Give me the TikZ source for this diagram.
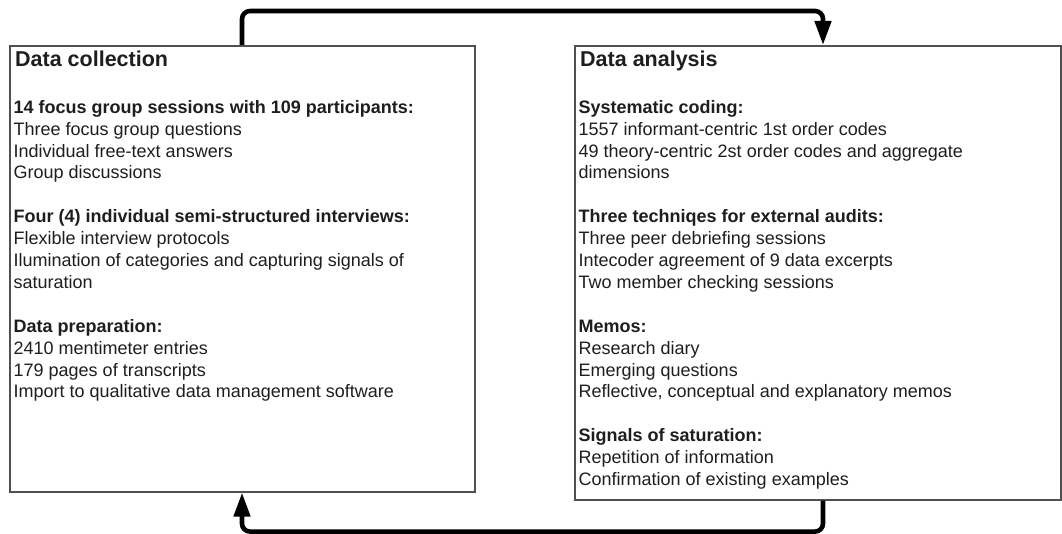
\documentclass[tikz,border=0pt]{standalone}
\usepackage{fontspec}
\setmainfont{Liberation Sans}
\usetikzlibrary{arrows.meta}
\definecolor{ink}{HTML}{1E1E1E}
\definecolor{edge}{HTML}{505050}
\tikzset{
  box/.style={draw=edge, line width=1.6pt, fill=white, inner sep=0pt, anchor=north west},
  ttl/.style={anchor=base west, inner sep=0pt, text=ink, font=\fontsize{21.5}{24}\selectfont\bfseries},
  body/.style={anchor=north west, inner sep=0pt, text=ink, align=left, font=\fontsize{18}{21.9}\selectfont},
  conn/.style={line width=4.6pt, black, rounded corners=8pt, -{Triangle[length=24pt,width=16pt]}}
}
\begin{document}
\begin{tikzpicture}[x=1pt,y=-1pt]
\useasboundingbox (0,0) rectangle (1062,534);
\node[box, minimum width=465pt, minimum height=446pt] (coll) at (9,45) {};
\node[box, minimum width=486pt, minimum height=454pt] (ana) at (574,45) {};
\node[ttl] (colltitle) at ([xshift=6pt,yshift=-22pt]coll.north west) {Data collection};
\node[ttl] (anatitle) at ([xshift=6pt,yshift=-22pt]ana.north west) {Data analysis};
\node[body] (colltext) at ([xshift=4.5pt,yshift=-55pt]coll.north west) {%
\textbf{14 focus group sessions with 109 participants:}\\
Three focus group questions\\
Individual free-text answers\\
Group discussions\\[21.9pt]
\textbf{Four (4) individual semi-structured interviews:}\\
Flexible interview protocols\\
Ilumination of categories and capturing signals of\\
saturation\\[21.9pt]
\textbf{Data preparation:}\\
2410 mentimeter entries\\
179 pages of transcripts\\
Import to qualitative data management software};
\node[body] (anatext) at ([xshift=4.5pt,yshift=-55pt]ana.north west) {%
\textbf{Systematic coding:}\\
1557 informant-centric 1st order codes\\
49 theory-centric 2st order codes and aggregate\\
dimensions\\[21.9pt]
\textbf{Three techniqes for external audits:}\\
Three peer debriefing sessions\\
Intecoder agreement of 9 data excerpts\\
Two member checking sessions\\[21.9pt]
\textbf{Memos:}\\
Research diary\\
Emerging questions\\
Reflective, conceptual and explanatory memos\\[21.9pt]
\textbf{Signals of saturation:}\\
Repetition of information\\
Confirmation of existing examples};
\draw[conn] ([xshift=233pt]coll.north west) -- ++(0,-34) -| ([xshift=249pt]ana.north west);
\draw[conn] ([xshift=249pt]ana.south west) -- ++(0,31) -| ([xshift=233pt]coll.south west);
\end{tikzpicture}
\end{document}
